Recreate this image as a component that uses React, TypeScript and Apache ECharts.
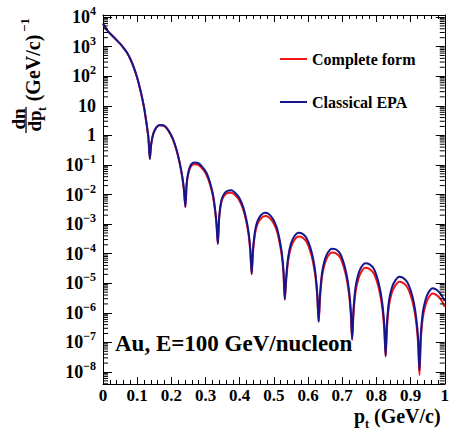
import React, { useEffect, useRef } from "react";
import * as echarts from "echarts";

// p_t (GeV/c) sample positions shared by both curves
const pt = [
  0, 0.005, 0.01, 0.02, 0.03, 0.04, 0.05, 0.06, 0.07, 0.08, 0.09, 0.1, 0.11, 0.12, 0.128, 0.133,
  0.137, 0.141, 0.147, 0.156, 0.166, 0.179, 0.191, 0.204, 0.215, 0.224, 0.232, 0.237,
  0.241, 0.245, 0.251, 0.258, 0.268, 0.279, 0.29, 0.302, 0.312, 0.321, 0.327, 0.332,
  0.336, 0.34, 0.346, 0.354, 0.364, 0.376, 0.387, 0.399, 0.41, 0.419, 0.426, 0.431,
  0.435, 0.439, 0.445, 0.452, 0.462, 0.474, 0.485, 0.497, 0.508, 0.516, 0.523, 0.528,
  0.532, 0.536, 0.542, 0.55, 0.56, 0.572, 0.583, 0.595, 0.606, 0.615, 0.622, 0.627,
  0.631, 0.635, 0.641, 0.649, 0.658, 0.67, 0.682, 0.694, 0.704, 0.713, 0.72, 0.725,
  0.729, 0.733, 0.739, 0.747, 0.756, 0.768, 0.78, 0.792, 0.802, 0.811, 0.818, 0.823,
  0.827, 0.831, 0.837, 0.845, 0.855, 0.867, 0.878, 0.89, 0.901, 0.91, 0.917, 0.922,
  0.926, 0.93, 0.936, 0.944, 0.953, 0.965, 0.977, 0.989, 1.0,
];

// log10 of dn/dp_t, "Classical EPA" (blue)
const classicalLog10 = [
  3.78, 3.68, 3.58, 3.45, 3.33, 3.22, 3.1, 2.96, 2.8, 2.58, 2.3, 1.95, 1.5, 0.95, 0.35, -0.1,
  -0.8, -0.3, 0.05, 0.27, 0.35, 0.33, 0.18, -0.1, -0.48, -0.9, -1.4, -1.85,
  -2.42, -1.6, -1.18, -0.98, -0.92, -0.94, -1.06, -1.25, -1.55, -1.95, -2.4, -2.95,
  -3.67, -2.75, -2.22, -1.98, -1.88, -1.86, -1.95, -2.12, -2.42, -2.82, -3.28, -3.85,
  -4.68, -3.85, -3.22, -2.9, -2.7, -2.62, -2.66, -2.82, -3.1, -3.48, -3.95, -4.55,
  -5.54, -4.8, -4.1, -3.66, -3.41, -3.29, -3.32, -3.46, -3.77, -4.18, -4.7, -5.35,
  -6.29, -5.38, -4.64, -4.21, -3.96, -3.83, -3.86, -4.0, -4.3, -4.72, -5.25, -5.9,
  -6.89, -5.87, -5.13, -4.7, -4.45, -4.32, -4.36, -4.5, -4.8, -5.22, -5.75, -6.4,
  -7.45, -6.33, -5.58, -5.16, -4.91, -4.78, -4.82, -4.96, -5.26, -5.68, -6.21, -6.86,
  -7.95, -6.72, -5.97, -5.55, -5.3, -5.17, -5.23, -5.38, -5.6,
];

// log10 of dn/dp_t, "Complete form" (red)
const completeLog10 = [
  3.78, 3.68, 3.58, 3.45, 3.33, 3.22, 3.1, 2.96, 2.8, 2.58, 2.3, 1.95, 1.5, 0.95, 0.35, -0.1,
  -0.8, -0.31, 0.04, 0.26, 0.34, 0.32, 0.16, -0.12, -0.5, -0.92, -1.42, -1.87,
  -2.42, -1.64, -1.23, -1.04, -0.98, -1.0, -1.12, -1.32, -1.62, -2.02, -2.47, -3.02,
  -3.67, -2.8, -2.28, -2.05, -1.95, -1.94, -2.03, -2.2, -2.5, -2.9, -3.36, -3.93,
  -4.7, -3.92, -3.32, -3.0, -2.81, -2.73, -2.77, -2.93, -3.21, -3.59, -4.06, -4.66,
  -5.56, -4.92, -4.23, -3.79, -3.54, -3.42, -3.45, -3.59, -3.9, -4.31, -4.83, -5.48,
  -6.31, -5.51, -4.77, -4.34, -4.09, -3.96, -3.99, -4.13, -4.43, -4.85, -5.38, -6.03,
  -6.92, -6.03, -5.29, -4.86, -4.61, -4.48, -4.52, -4.66, -4.96, -5.38, -5.91, -6.56,
  -7.48, -6.5, -5.75, -5.33, -5.08, -4.95, -4.99, -5.13, -5.43, -5.85, -6.38, -7.03,
  -8.1, -6.9, -6.15, -5.73, -5.48, -5.35, -5.41, -5.56, -5.8,
];

const seriesNames = ["Complete form", "Classical EPA"];
const yDecades = [-9, -8, -7, -6, -5, -4, -3, -2, -1, 0, 1, 2, 3];
const minorMultipliers = [2, 3, 4, 5, 6, 7, 8, 9];

const Y_MIN = -8.406;
const Y_MAX = 4.068;
const FONT = '"Liberation Serif", "Times New Roman", serif';
const RED = "#f01414";
const BLUE = "#16168c";

function yLabel(v: number): string {
  const e = Math.round(v);
  if (Math.abs(v - e) > 1e-6) return "";
  if (e === 0) return "{b|1}";
  if (e === 1) return "{b|10}";
  const exp = e < 0 ? "\u2212" + String(-e) : String(e);
  return "{b|10}{s|" + exp + "}";
}

export default function App() {
  const ref = useRef<HTMLDivElement>(null);
  useEffect(() => {
    if (!ref.current) return;
    const chart = echarts.init(ref.current, null, { renderer: "svg" });

    const minorTicks: number[][] = [];
    yDecades.forEach((d) =>
      minorMultipliers.forEach((m) => {
        const v = d + Math.log10(m);
        if (v > Y_MIN && v < Y_MAX) minorTicks.push([0, v]);
      })
    );

    const yAxisBase = {
      type: "value",
      min: Y_MIN,
      max: Y_MAX,
      splitNumber: 12,
      minInterval: 1,
      maxInterval: 1,
      splitLine: { show: false },
      axisLine: { show: true, onZero: false, lineStyle: { color: "#000", width: 1 } },
      axisTick: { show: true, inside: true, length: 9, lineStyle: { color: "#000" } },
    };
    const xAxisBase = {
      type: "value",
      min: 0,
      max: 1,
      interval: 0.1,
      splitLine: { show: false },
      axisLine: { show: true, onZero: false, lineStyle: { color: "#000", width: 1 } },
      axisTick: { show: true, inside: true, length: 7, lineStyle: { color: "#000" } },
      minorTick: { show: true, splitNumber: 5, length: 4, lineStyle: { color: "#000" } },
    };

    chart.setOption({
      animation: false,
      backgroundColor: "#fff",
      grid: { left: 103, right: 4, top: 15, bottom: 47, containLabel: false },
      legend: {
        data: seriesNames,
        orient: "vertical",
        left: 280,
        top: 51,
        padding: 0,
        icon: "rect",
        itemWidth: 27,
        itemHeight: 2,
        itemGap: 27,
        textStyle: { fontFamily: FONT, fontWeight: "bold", fontSize: 16, lineHeight: 16, color: "#000" },
      },
      xAxis: [
        {
          ...xAxisBase,
          position: "bottom",
          axisLabel: {
            show: true,
            margin: 3,
            fontFamily: FONT,
            fontWeight: "bold",
            fontSize: 17,
            lineHeight: 16,
            color: "#000",
          },
        },
        { ...xAxisBase, position: "top", axisLabel: { show: false } },
      ],
      yAxis: [
        {
          ...yAxisBase,
          position: "left",
          axisLabel: {
            show: true,
            margin: 7,
            formatter: yLabel,
            color: "#000",
            rich: {
              b: { fontFamily: FONT, fontWeight: "bold", fontSize: 18, lineHeight: 24, color: "#000" },
              s: {
                fontFamily: FONT,
                fontWeight: "bold",
                fontSize: 12,
                lineHeight: 12,
                verticalAlign: "top",
                color: "#000",
              },
            },
          },
        },
        { ...yAxisBase, position: "right", axisLabel: { show: false } },
      ],
      series: [
        {
          name: seriesNames[0],
          type: "line",
          data: pt.map((x, i) => [x, completeLog10[i]]),
          symbol: "none",
          smooth: 0.25,
          lineStyle: { color: RED, width: 2 },
          itemStyle: { color: RED },
          z: 3,
        },
        {
          name: seriesNames[1],
          type: "line",
          data: pt.map((x, i) => [x, classicalLog10[i]]),
          symbol: "none",
          smooth: 0.25,
          lineStyle: { color: BLUE, width: 2 },
          itemStyle: { color: BLUE },
          z: 4,
        },
        {
          type: "custom",
          silent: true,
          data: minorTicks,
          z: 5,
          renderItem: (params: any, api: any) => {
            const v = api.value(1);
            const pL = api.coord([0, v]);
            const pR = api.coord([1, v]);
            return {
              type: "group",
              children: [
                { type: "line", shape: { x1: pL[0], y1: pL[1], x2: pL[0] + 5, y2: pL[1] }, style: { stroke: "#000", lineWidth: 1 } },
                { type: "line", shape: { x1: pR[0] - 5, y1: pR[1], x2: pR[0], y2: pR[1] }, style: { stroke: "#000", lineWidth: 1 } },
              ],
            };
          },
        },
      ],
      graphic: [
        {
          type: "group",
          x: 0,
          y: 150,
          rotation: Math.PI / 2,
          children: [
            { type: "text", x: 31, y: 18, style: { text: "dn", font: `bold 19px ${FONT}`, align: "center", verticalAlign: "middle", fill: "#000" } },
            { type: "line", shape: { x1: 17, y1: 26, x2: 43, y2: 26 }, style: { stroke: "#000", lineWidth: 1.3 } },
            { type: "text", x: 29, y: 34, style: { text: "dp", font: `bold 19px ${FONT}`, align: "center", verticalAlign: "middle", fill: "#000" } },
            { type: "text", x: 41, y: 42, style: { text: "t", font: `bold 12px ${FONT}`, align: "center", verticalAlign: "middle", fill: "#000" } },
            { type: "text", x: 82, y: 33, style: { text: "(GeV/c)", font: `bold 20px ${FONT}`, align: "center", verticalAlign: "middle", fill: "#000" } },
            { type: "text", x: 125, y: 24, style: { text: "\u22121", font: `bold 13px ${FONT}`, align: "center", verticalAlign: "middle", fill: "#000" } },
          ],
        },
        { type: "text", left: 354, top: 406, style: { text: "p", font: `bold 20px ${FONT}`, fill: "#000" } },
        { type: "text", left: 365, top: 418, style: { text: "t", font: `bold 12px ${FONT}`, fill: "#000" } },
        { type: "text", left: 374, top: 406, style: { text: "(GeV/c)", font: `bold 20px ${FONT}`, fill: "#000" } },
        { type: "text", left: 115, top: 332, style: { text: "Au, E=100 GeV/nucleon", font: `bold 23px ${FONT}`, fill: "#000" } },
      ],
    });
    return () => chart.dispose();
  }, []);
  return <div ref={ref} style={{ position: "absolute", left: 0, top: 0, width: 452, height: 431 }} />;
}
